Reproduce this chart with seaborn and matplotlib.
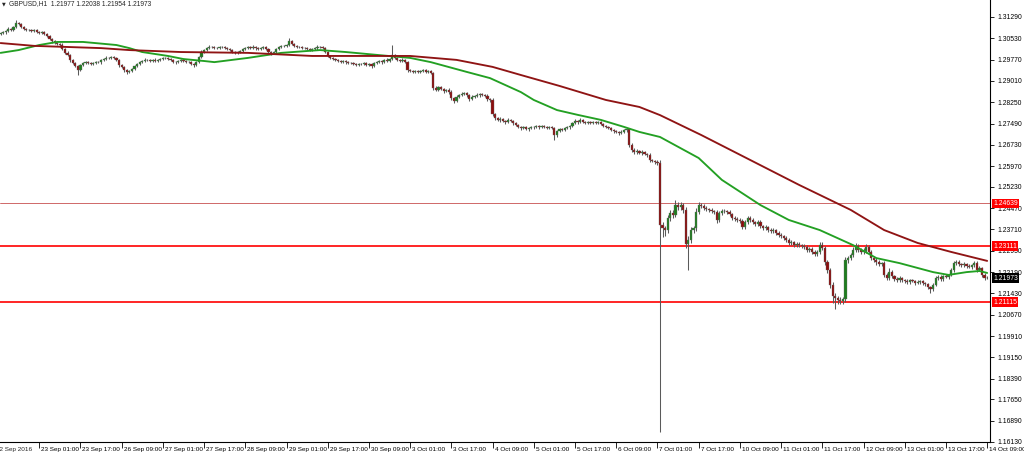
import numpy as np
import pandas as pd
import matplotlib
matplotlib.use('Agg')
import matplotlib.pyplot as plt
import matplotlib.transforms as mtransforms
import seaborn as sns

# GBPUSD H1, 22 Sep 09:00 .. 14 Oct 09:00 (one row = 16 bars)
closes = [
    1.3068, 1.3072, 1.3075, 1.3079, 1.3086, 1.3083, 1.3093, 1.3108, 1.3104, 1.3093, 1.3086, 1.3083, 1.3083, 1.3079, 1.3083, 1.3075,
    1.3072, 1.3075, 1.3068, 1.3061, 1.3050, 1.3043, 1.3036, 1.3033, 1.3029, 1.3015, 1.3001, 1.2993, 1.2976, 1.2965, 1.2954, 1.2940,
    1.2958, 1.2965, 1.2968, 1.2965, 1.2961, 1.2965, 1.2968, 1.2968, 1.2976, 1.2979, 1.2983, 1.2983, 1.2986, 1.2983, 1.2976, 1.2958,
    1.2951, 1.2940, 1.2933, 1.2936, 1.2943, 1.2954, 1.2961, 1.2968, 1.2972, 1.2976, 1.2976, 1.2972, 1.2976, 1.2972, 1.2976, 1.2979,
    1.2983, 1.2983, 1.2979, 1.2976, 1.2968, 1.2968, 1.2972, 1.2976, 1.2972, 1.2968, 1.2968, 1.2961, 1.2958, 1.2968, 1.2986, 1.3004,
    1.3011, 1.3018, 1.3022, 1.3022, 1.3018, 1.3018, 1.3022, 1.3022, 1.3018, 1.3015, 1.3011, 1.3004, 1.3001, 1.3004, 1.3008, 1.3015,
    1.3018, 1.3022, 1.3018, 1.3022, 1.3018, 1.3015, 1.3018, 1.3022, 1.3015, 1.3004, 1.3001, 1.3004, 1.3015, 1.3022, 1.3026, 1.3026,
    1.3029, 1.3043, 1.3033, 1.3026, 1.3022, 1.3022, 1.3018, 1.3018, 1.3015, 1.3011, 1.3015, 1.3018, 1.3022, 1.3022, 1.3018, 1.3004,
    1.2990, 1.2983, 1.2979, 1.2976, 1.2972, 1.2968, 1.2972, 1.2968, 1.2965, 1.2965, 1.2961, 1.2958, 1.2961, 1.2961, 1.2965, 1.2958,
    1.2961, 1.2954, 1.2965, 1.2968, 1.2972, 1.2968, 1.2976, 1.2972, 1.2979, 1.2993, 1.2983, 1.2976, 1.2972, 1.2976, 1.2968, 1.2940,
    1.2936, 1.2933, 1.2936, 1.2933, 1.2936, 1.2940, 1.2933, 1.2936, 1.2929, 1.2876, 1.2869, 1.2879, 1.2872, 1.2865, 1.2869, 1.2861,
    1.2840, 1.2829, 1.2844, 1.2851, 1.2854, 1.2858, 1.2851, 1.2836, 1.2844, 1.2847, 1.2851, 1.2854, 1.2851, 1.2847, 1.2836, 1.2833,
    1.2783, 1.2769, 1.2762, 1.2765, 1.2758, 1.2754, 1.2762, 1.2758, 1.2751, 1.2744, 1.2736, 1.2733, 1.2736, 1.2729, 1.2733, 1.2736,
    1.2736, 1.2740, 1.2736, 1.2740, 1.2736, 1.2733, 1.2736, 1.2733, 1.2708, 1.2722, 1.2729, 1.2726, 1.2733, 1.2736, 1.2740, 1.2751,
    1.2758, 1.2754, 1.2762, 1.2754, 1.2751, 1.2754, 1.2751, 1.2754, 1.2751, 1.2754, 1.2747, 1.2740, 1.2736, 1.2733, 1.2726, 1.2722,
    1.2719, 1.2715, 1.2719, 1.2726, 1.2729, 1.2672, 1.2655, 1.2647, 1.2651, 1.2644, 1.2647, 1.2640, 1.2637, 1.2619, 1.2615, 1.2612,
    1.2608, 1.2387, 1.2376, 1.2369, 1.2412, 1.2430, 1.2423, 1.2458, 1.2451, 1.2458, 1.2441, 1.2319, 1.2334, 1.2369, 1.2376, 1.2434,
    1.2458, 1.2455, 1.2448, 1.2444, 1.2441, 1.2437, 1.2434, 1.2405, 1.2430, 1.2437, 1.2437, 1.2434, 1.2426, 1.2412, 1.2408, 1.2405,
    1.2401, 1.2380, 1.2398, 1.2412, 1.2405, 1.2398, 1.2390, 1.2398, 1.2383, 1.2376, 1.2380, 1.2369, 1.2366, 1.2369, 1.2358, 1.2351,
    1.2348, 1.2341, 1.2334, 1.2323, 1.2326, 1.2316, 1.2319, 1.2316, 1.2312, 1.2309, 1.2298, 1.2302, 1.2291, 1.2284, 1.2291, 1.2316,
    1.2305, 1.2255, 1.2227, 1.2173, 1.2134, 1.2127, 1.2120, 1.2116, 1.2123, 1.2262, 1.2269, 1.2280, 1.2298, 1.2312, 1.2298, 1.2291,
    1.2294, 1.2309, 1.2291, 1.2269, 1.2262, 1.2255, 1.2248, 1.2251, 1.2209, 1.2198, 1.2219, 1.2205, 1.2194, 1.2191, 1.2198, 1.2191,
    1.2187, 1.2184, 1.2191, 1.2187, 1.2180, 1.2184, 1.2187, 1.2180, 1.2177, 1.2166, 1.2159, 1.2173, 1.2198, 1.2202, 1.2194, 1.2205,
    1.2202, 1.2209, 1.2227, 1.2251, 1.2255, 1.2248, 1.2244, 1.2248, 1.2241, 1.2237, 1.2244, 1.2251, 1.2227, 1.2234, 1.2209, 1.2198,
    1.21973,
]
first_open = 1.3072

# wick lengths in pips above / below the body
up_pips = [
    4, 3, 5, 4, 6, 3, 5, 10, 4, 3, 4, 5, 3, 4, 3, 4,
    3, 5, 4, 3, 4, 3, 5, 4, 3, 6, 4, 5, 3, 4, 3, 4,
    5, 4, 3, 5, 4, 3, 4, 5, 3, 4, 6, 4, 3, 4, 5, 3,
    4, 3, 5, 4, 3, 5, 4, 3, 4, 5, 3, 4, 3, 5, 4, 3,
    4, 5, 3, 4, 3, 4, 5, 3, 4, 3, 5, 4, 3, 4, 5, 6,
    5, 4, 6, 3, 4, 5, 3, 4, 5, 3, 4, 3, 5, 4, 3, 4,
    4, 5, 3, 6, 4, 3, 5, 4, 3, 4, 5, 3, 4, 5, 4, 3,
    5, 11, 4, 3, 4, 5, 3, 4, 3, 5, 4, 3, 6, 4, 3, 4,
    4, 3, 5, 4, 3, 4, 5, 3, 4, 3, 5, 4, 3, 4, 5, 3,
    4, 5, 3, 4, 5, 3, 4, 5, 4, 36, 5, 4, 3, 5, 4, 3,
    4, 3, 5, 4, 3, 4, 5, 3, 4, 5, 6, 4, 5, 3, 4, 5,
    6, 4, 5, 4, 6, 5, 4, 3, 5, 4, 6, 4, 3, 5, 8, 4,
    6, 5, 4, 6, 5, 4, 5, 4, 3, 5, 4, 3, 5, 4, 3, 4,
    4, 5, 3, 4, 5, 3, 4, 3, 5, 4, 5, 3, 4, 5, 4, 5,
    6, 5, 7, 4, 5, 4, 3, 5, 4, 3, 4, 5, 3, 4, 5, 4,
    5, 4, 6, 5, 4, 5, 6, 5, 7, 5, 6, 4, 5, 6, 5, 4,
    6, 12, 9, 8, 10, 12, 10, 18, 10, 12, 8, 10, 14, 10, 9, 12,
    12, 8, 6, 7, 5, 6, 5, 6, 8, 7, 6, 5, 6, 5, 7, 6,
    7, 6, 8, 7, 6, 8, 5, 7, 6, 5, 6, 5, 7, 6, 5, 6,
    6, 5, 6, 7, 6, 5, 7, 6, 5, 6, 7, 6, 5, 6, 7, 10,
    10, 8, 7, 8, 9, 10, 8, 9, 8, 10, 8, 7, 9, 11, 8, 7,
    10, 9, 7, 8, 6, 7, 6, 5, 7, 8, 14, 6, 5, 6, 7, 5,
    5, 6, 5, 4, 5, 6, 5, 4, 5, 4, 5, 6, 7, 5, 6, 5,
    6, 5, 7, 8, 7, 6, 5, 6, 5, 6, 5, 6, 7, 6, 5, 6,
    6,
]
down_pips = [
    3, 4, 3, 5, 4, 3, 4, 5, 3, 4, 5, 3, 4, 3, 5, 4,
    4, 3, 5, 4, 3, 5, 4, 3, 6, 4, 5, 4, 6, 5, 4, 18,
    4, 5, 3, 4, 5, 3, 4, 3, 5, 4, 3, 4, 5, 3, 4, 6,
    5, 6, 7, 4, 3, 4, 5, 3, 4, 3, 5, 4, 3, 4, 5, 3,
    3, 4, 5, 3, 4, 5, 3, 4, 5, 3, 4, 5, 9, 4, 3, 4,
    3, 4, 3, 5, 4, 3, 4, 5, 3, 4, 5, 4, 3, 4, 5, 3,
    5, 3, 4, 3, 5, 4, 3, 4, 5, 4, 6, 3, 4, 3, 4, 5,
    3, 4, 5, 4, 3, 5, 4, 3, 5, 4, 3, 4, 5, 3, 4, 5,
    5, 4, 3, 5, 4, 3, 4, 5, 3, 4, 5, 3, 4, 5, 3, 4,
    5, 7, 4, 3, 4, 5, 3, 4, 5, 4, 3, 4, 5, 3, 4, 6,
    3, 5, 4, 3, 5, 4, 3, 4, 5, 6, 5, 4, 5, 6, 4, 5,
    6, 8, 5, 4, 5, 4, 6, 5, 4, 5, 4, 6, 5, 4, 5, 6,
    6, 7, 5, 6, 4, 5, 4, 5, 6, 5, 4, 6, 5, 4, 5, 4,
    5, 4, 5, 3, 4, 5, 4, 5, 18, 6, 4, 5, 4, 3, 5, 4,
    4, 5, 3, 4, 5, 4, 5, 4, 3, 5, 4, 5, 4, 5, 4, 6,
    5, 6, 4, 5, 6, 8, 6, 5, 6, 5, 6, 5, 6, 7, 5, 6,
    6, 738, 32, 20, 10, 9, 12, 8, 10, 9, 12, 14, 92, 12, 10, 9,
    8, 7, 6, 8, 6, 7, 6, 12, 7, 6, 7, 6, 7, 6, 8, 7,
    8, 9, 7, 6, 7, 6, 8, 7, 6, 7, 6, 8, 7, 6, 7, 8,
    7, 6, 8, 7, 6, 7, 6, 8, 7, 6, 7, 6, 8, 7, 6, 7,
    8, 9, 10, 12, 25, 40, 15, 12, 10, 12, 9, 8, 7, 8, 9, 8,
    7, 8, 9, 7, 8, 9, 7, 8, 9, 8, 7, 8, 7, 6, 7, 6,
    6, 7, 6, 5, 6, 5, 6, 7, 6, 8, 14, 6, 5, 6, 5, 6,
    5, 6, 5, 6, 5, 6, 7, 5, 6, 5, 6, 5, 6, 5, 7, 6,
    2,
]

# moving averages read at a few bars
green_ma_bar = [1, 8, 16, 23, 33, 46, 51, 56, 66, 72, 80, 84, 97, 110, 125, 135, 148, 160, 168,
                182, 191, 203, 208, 217, 225, 234, 243, 249, 257, 272, 281, 296, 307, 319, 332,
                341, 350, 363, 369, 376, 381, 384]
green_ma = [1.3001, 1.3011, 1.3029, 1.3040, 1.3040, 1.3029, 1.3018, 1.3004, 1.2990, 1.2979,
            1.2972, 1.2968, 1.2983, 1.3001, 1.3011, 1.3004, 1.2993, 1.2983, 1.2968, 1.2933,
            1.2911, 1.2861, 1.2833, 1.2797, 1.2780, 1.2762, 1.2737, 1.2719, 1.2701, 1.2626,
            1.2548, 1.2458, 1.2405, 1.2369, 1.2315, 1.2269, 1.2251, 1.2219, 1.2209, 1.2219,
            1.2223, 1.2216]
red_ma_bar = [1, 14, 27, 40, 51, 71, 97, 122, 160, 178, 192, 203, 218, 236, 249, 257, 273, 292,
              311, 331, 344, 357, 370, 384]
red_ma = [1.3036, 1.3026, 1.3022, 1.3018, 1.3011, 1.3004, 1.3001, 1.2990, 1.2990, 1.2976,
          1.2951, 1.2922, 1.2883, 1.2833, 1.2808, 1.2779, 1.2708, 1.2619, 1.2530, 1.2441,
          1.2369, 1.2323, 1.2291, 1.2259]

time_labels = ['22 Sep 2016', '23 Sep 01:00', '23 Sep 17:00', '26 Sep 09:00', '27 Sep 01:00',
               '27 Sep 17:00', '28 Sep 09:00', '29 Sep 01:00', '29 Sep 17:00', '30 Sep 09:00',
               '3 Oct 01:00', '3 Oct 17:00', '4 Oct 09:00', '5 Oct 01:00', '5 Oct 17:00',
               '6 Oct 09:00', '7 Oct 01:00', '7 Oct 17:00', '10 Oct 09:00', '11 Oct 01:00',
               '11 Oct 17:00', '12 Oct 09:00', '13 Oct 01:00', '13 Oct 17:00', '14 Oct 09:00']
price_ticks = [1.31290, 1.30530, 1.29770, 1.29010, 1.28250, 1.27490, 1.26730, 1.25970,
               1.25230, 1.24470, 1.23710, 1.22950, 1.22190, 1.21430, 1.20670, 1.19910,
               1.19150, 1.18390, 1.17650, 1.16890, 1.16130]
red_levels = [1.23111, 1.21115]
thin_level = 1.24639
last_price = 1.21973
header = 'GBPUSD,H1  1.21977 1.22038 1.21954 1.21973'

sns.set_theme(style='white')
plt.rcParams['font.family'] = ['Liberation Sans', 'DejaVu Sans']

df = pd.DataFrame({'close': closes})
df['open'] = [first_open] + closes[:-1]
df['high'] = df[['open', 'close']].max(axis=1) + np.array(up_pips) * 1e-4
df['low'] = df[['open', 'close']].min(axis=1) - np.array(down_pips) * 1e-4
df['bar'] = np.arange(len(df))

fig = plt.figure(figsize=(10.24, 4.57), dpi=100)
ax = fig.add_axes([0, 1 - 442 / 457, 990 / 1024, 442 / 457])

# horizontal levels
for lv in red_levels:
    ax.axhline(lv, color='#ff0000', lw=1.2, zorder=1)
ax.axhline(thin_level, color='#c85050', lw=0.6, zorder=1)

# candles
ax.vlines(df['bar'], df['low'], df['high'], color='#5a5a5a', lw=0.75, zorder=2)
body = (df['close'] - df['open']).abs().clip(lower=0.00008)
bottom = df[['open', 'close']].min(axis=1)
bull = df['close'] >= df['open']
ax.bar(df['bar'][bull], body[bull], bottom=bottom[bull], width=0.85,
       color='#1e7d1e', edgecolor='#6a6a6a', lw=0.25, zorder=3)
ax.bar(df['bar'][~bull], body[~bull], bottom=bottom[~bull], width=0.85,
       color='#8b0d0d', edgecolor='#6a6a6a', lw=0.25, zorder=3)

# moving averages
sns.lineplot(x=green_ma_bar, y=green_ma, ax=ax, color='#23a023', lw=1.35, zorder=4)
sns.lineplot(x=red_ma_bar, y=red_ma, ax=ax, color='#8f1414', lw=1.35, zorder=4)

ax.set_xlim(0.78, 385.1)
ax.set_ylim(1.16130, 1.31896)

for s in ['top', 'left']:
    ax.spines[s].set_visible(False)
for s in ['right', 'bottom']:
    ax.spines[s].set_color('black')
    ax.spines[s].set_linewidth(0.8)

ax.yaxis.tick_right()
ax.set_yticks(price_ticks)
ax.set_yticklabels([f'{v:.5f}' for v in price_ticks])
ax.tick_params(axis='y', direction='out', length=3, width=0.6, labelsize=4.9, pad=2,
               colors='black', right=True, left=False)

xt = list(range(16, 16 * len(time_labels), 16))
ax.set_xticks(xt)
ax.set_xticklabels(time_labels[1:])
ax.tick_params(axis='x', direction='out', length=4, width=0.6, labelsize=4.6, pad=-0.6,
               colors='black', bottom=True)
off = mtransforms.ScaledTranslation(2 / 100, 0, fig.dpi_scale_trans)
for lab in ax.get_xticklabels():
    lab.set_horizontalalignment('left')
    lab.set_transform(lab.get_transform() + off)
first = ax.text(0, -0.0115, time_labels[0],
                transform=mtransforms.blended_transform_factory(ax.transData, ax.transAxes),
                ha='left', va='top', fontsize=4.6, clip_on=False)
first.set_transform(first.get_transform() + mtransforms.ScaledTranslation(-2 / 100, 0, fig.dpi_scale_trans))
ax.set_xlabel('')
ax.set_ylabel('')

# price boxes on the right scale
tr = mtransforms.blended_transform_factory(ax.transAxes, ax.transData)
for lv in red_levels + [thin_level]:
    ax.text(1.003, lv, f'{lv:.5f}', transform=tr, ha='left', va='center', color='white',
            fontsize=4.9, zorder=10, clip_on=False,
            bbox=dict(boxstyle='square,pad=0.2', fc='#ff0000', ec='none'))
ax.text(1.003, last_price, f'{last_price:.5f}', transform=tr, ha='left', va='center', color='white',
        fontsize=4.9, zorder=10, clip_on=False,
        bbox=dict(boxstyle='square,pad=0.2', fc='black', ec='none'))

fig.text(2 / 1024, 1 - 4 / 457, '\u25bc', fontsize=3.5, va='center', ha='left',
         family=['DejaVu Sans'])
fig.text(9 / 1024, 1 - 4 / 457, header, fontsize=4.8, va='center', ha='left')

fig.savefig('out.png', dpi=100, facecolor='white')
